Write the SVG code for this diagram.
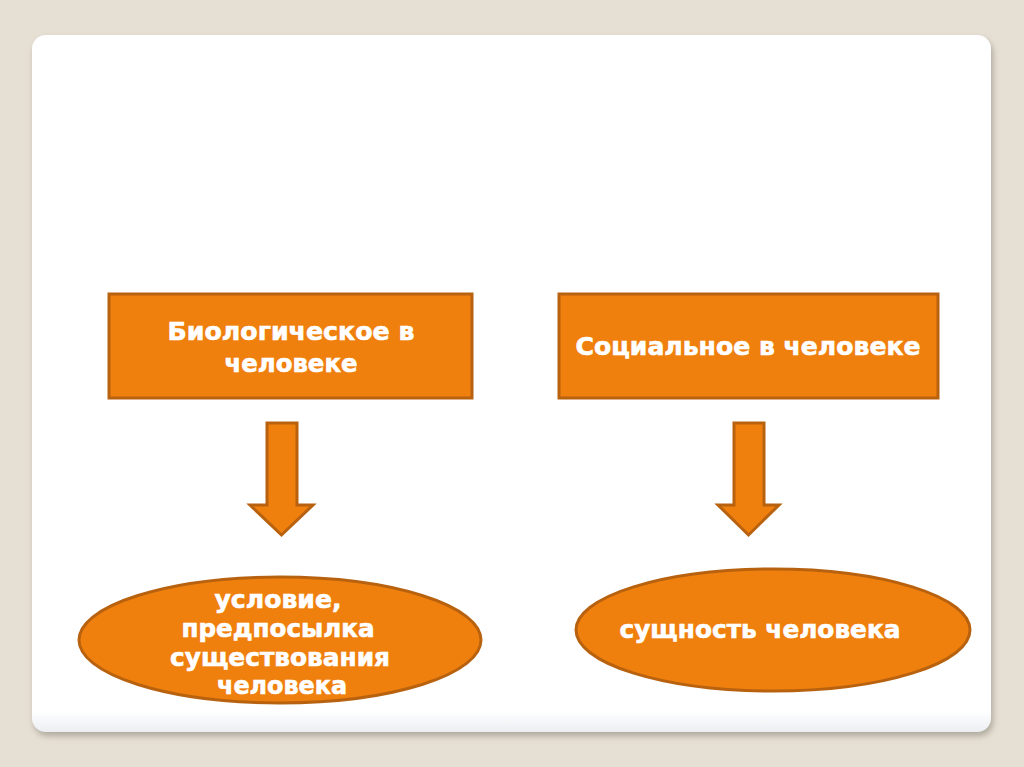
<svg xmlns="http://www.w3.org/2000/svg" width="1024" height="767" viewBox="0 0 1024 767">
<defs>
<filter id="sh" x="-5%" y="-5%" width="110%" height="110%">
<feDropShadow dx="2" dy="4" stdDeviation="3" flood-color="#8a8578" flood-opacity="0.6"/>
</filter>
<linearGradient id="card" x1="0" y1="0" x2="0" y2="1">
<stop offset="0.97" stop-color="#ffffff"/>
<stop offset="1" stop-color="#eceef2"/>
</linearGradient>
<style>
.node{fill:#F0800E;stroke:#B8620F;stroke-width:3}
.t{font-family:"DejaVu Sans","Liberation Sans",Arial,sans-serif;font-weight:bold;font-size:24px;fill:#ffffff;stroke:#ffffff;stroke-width:0.6;text-anchor:middle}
</style>
</defs>
<rect x="0" y="0" width="1024" height="767" fill="#E6DFD4"/>
<rect x="32" y="35" width="959" height="697" rx="14" fill="url(#card)" filter="url(#sh)"/>
<g id="box-bio">
<rect class="node" x="109" y="294" width="363" height="104"/>
<text class="t" x="291" y="340" textLength="247" lengthAdjust="spacingAndGlyphs">Биологическое в</text>
<text class="t" x="291" y="372" textLength="133" lengthAdjust="spacingAndGlyphs">человеке</text>
</g>
<g id="box-soc">
<rect class="node" x="559" y="294" width="379" height="104"/>
<text class="t" x="748" y="355" textLength="345" lengthAdjust="spacingAndGlyphs">Социальное в человеке</text>
</g>
<g id="connectors">
<polygon class="node" points="267,423 297,423 297,505 313,505 281.5,535 250,505 267,505"/>
<polygon class="node" points="734,423 764,423 764,505 779,505 748.5,535 718,505 734,505"/>
</g>
<g id="ell-cond">
<ellipse class="node" cx="280" cy="640" rx="201" ry="63"/>
<text class="t" x="278" y="608" textLength="127" lengthAdjust="spacingAndGlyphs">условие,</text>
<text class="t" x="278" y="637" textLength="193" lengthAdjust="spacingAndGlyphs">предпосылка</text>
<text class="t" x="280" y="666" textLength="220" lengthAdjust="spacingAndGlyphs">существования</text>
<text class="t" x="282" y="694" textLength="130" lengthAdjust="spacingAndGlyphs">человека</text>
</g>
<g id="ell-ess">
<ellipse class="node" cx="773" cy="630" rx="197" ry="61"/>
<text class="t" x="760" y="638" textLength="281" lengthAdjust="spacingAndGlyphs">сущность человека</text>
</g>
</svg>
